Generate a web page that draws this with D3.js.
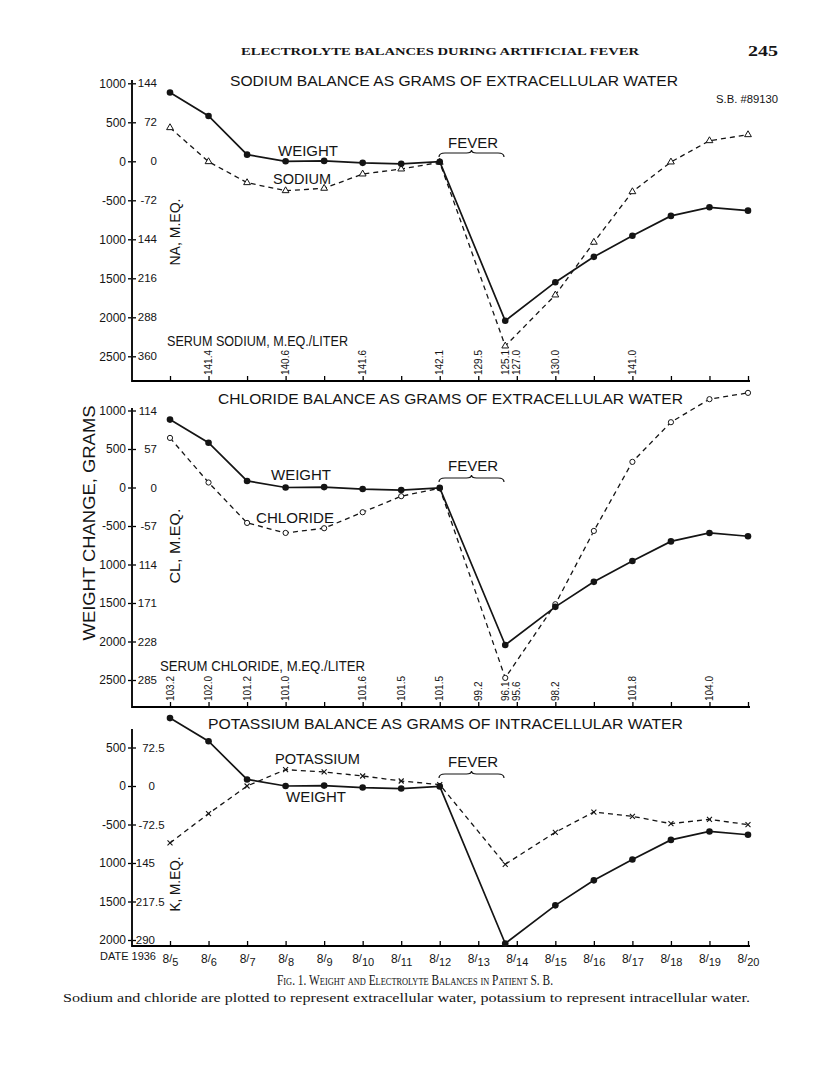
<!DOCTYPE html>
<html lang="en">
<head>
<meta charset="UTF-8">
<title>Electrolyte balances during artificial fever</title>
<style>
    body {
        margin: 0;
        background: #fff;
    }
    svg text {
        fill: #141414;
    }
    .sans {
        font-family: "Liberation Sans", Arial, sans-serif;
    }
    .serif {
        font-family: "Liberation Serif", "Times New Roman", serif;
    }
</style>
</head>
<body>
<svg id="chart" width="816" height="1078"></svg>
<script src="https://d3js.org/d3.v7.min.js"></script>
<script>
// days of August 1936 (13.7 = low point reading during fever)
var days = [5, 6, 7, 8, 9, 10, 11, 12, 13.7, 15, 16, 17, 18, 19, 20];
var dateTicks = [5, 6, 7, 8, 9, 10, 11, 12, 13, 14, 15, 16, 17, 18, 19, 20];
var dateLabels = ["8/5", "8/6", "8/7", "8/8", "8/9", "8/10", "8/11", "8/12", "8/13", "8/14", "8/15", "8/16", "8/17", "8/18", "8/19", "8/20"];

// all series in grams of water (left scale)
var weight    = [882, 581, 85, 0, 5, -20, -33, -5, -2045, -1550, -1225, -955, -700, -590, -633];
var sodium    = [431, -5, -274, -377, -346, -163, -99, -13, -2368, -1714, -1038, -390, -9, 264, 341];
var chloride  = [644, 65, -460, -590, -529, -321, -113, -9, -2473, -1516, -564, 333, 848, 1147, 1229];
var potassium = [-740, -359, 0, 213, 182, 130, 65, 18, -1017, -601, -338, -394, -489, -433, -502];

// serum values written above the date axis
var serumNaDays = [6, 8, 10, 12, 13, 13.7, 14, 15, 17];
var serumNa = ["141.4", "140.6", "141.6", "142.1", "129.5", "125.1", "127.0", "130.0", "141.0"];
var serumClDays = [5, 6, 7, 8, 10, 11, 12, 13, 13.7, 14, 15, 17, 19];
var serumCl = ["103.2", "102.0", "101.2", "101.0", "101.6", "101.5", "101.5", "99.2", "96.1", "95.6", "98.2", "101.8", "104.0"];

// y tick values and labels
var gramTicks = [1000, 500, 0, -500, -1000, -1500, -2000, -2500];
var gramLabels = ["1000", "500", "0", "-500", "1000", "1500", "2000", "2500"];
var naLabels = ["144", "72", "0", "-72", "144", "216", "288", "360"];
var clLabels = ["114", "57", "0", "-57", "114", "171", "228", "285"];
var kTicks = [500, 0, -500, -1000, -1500, -2000];
var kGramLabels = ["500", "0", "-500", "1000", "1500", "2000"];
var kLabels = ["72.5", "0", "-72.5", "145", "217.5", "290"];

var svg = d3.select("#chart");
var x = d3.scaleLinear().domain([5, 20]).range([170, 748]);
var axisX = 132;

function txt(cls, px, py, s, size, len, extra) {
    var t = svg.append("text").attr("class", cls)
        .attr("x", px).attr("y", py)
        .attr("font-size", size).text(s);
    if (len) t.attr("textLength", len).attr("lengthAdjust", "spacingAndGlyphs");
    if (extra) extra(t);
    return t;
}

function vtxt(cx, cy, s, size, len) {
    svg.append("text").attr("class", "sans")
        .attr("transform", "translate(" + cx + "," + cy + ") rotate(-90)")
        .attr("text-anchor", "middle").attr("dy", "0.36em")
        .attr("font-size", size)
        .attr("textLength", len).attr("lengthAdjust", "spacingAndGlyphs")
        .text(s);
}

function brace(x0, x1, yb) {
    var xm = (x0 + x1) / 2;
    var p = d3.path();
    p.moveTo(x0, yb + 4);
    p.quadraticCurveTo(x0, yb, x0 + 6, yb);
    p.lineTo(xm - 5, yb);
    p.quadraticCurveTo(xm, yb, xm, yb - 3);
    p.quadraticCurveTo(xm, yb, xm + 5, yb);
    p.lineTo(x1 - 6, yb);
    p.quadraticCurveTo(x1, yb, x1, yb + 4);
    svg.append("path").attr("d", p.toString())
        .attr("fill", "none").attr("stroke", "#141414").attr("stroke-width", 1.2);
}

var panels = [
    {title: "SODIUM BALANCE AS GRAMS OF EXTRACELLULAR WATER", titleX: 230, titleY: 86, titleLen: 448,
     series: sodium, name: "SODIUM", marker: "tri", ticks: gramTicks, outer: gramLabels, inner: naLabels,
     domain: [-2500, 1000], range: [356.3, 83.3], top: 80, base: 381, innerEnd: 25,
     unit: "NA, M.EQ.", unitY: 232, unitLen: 67,
     serumTitle: "SERUM SODIUM, M.EQ./LITER", serumLen: 181, serumX: 167, serumY: 346,
     serumDays: serumNaDays, serum: serumNa,
     wLab: [278, 156], sLab: [273, 184], sLen: 58, fever: 148, braceY: 153},
    {title: "CHLORIDE BALANCE AS GRAMS OF EXTRACELLULAR WATER", titleX: 218, titleY: 404, titleLen: 465,
     series: chloride, name: "CHLORIDE", marker: "circ", ticks: gramTicks, outer: gramLabels, inner: clLabels,
     domain: [-2500, 1000], range: [680, 410.5], top: 408, base: 707, innerEnd: 25,
     unit: "CL, M.EQ.", unitY: 546, unitLen: 75,
     serumTitle: "SERUM CHLORIDE, M.EQ./LITER", serumLen: 205, serumX: 160, serumY: 671,
     serumDays: serumClDays, serum: serumCl,
     wLab: [271, 480], sLab: [256, 523], sLen: 78, fever: 471, braceY: 478},
    {title: "POTASSIUM BALANCE AS GRAMS OF INTRACELLULAR WATER", titleX: 208, titleY: 729, titleLen: 475,
     series: potassium, name: "POTASSIUM", marker: "x", ticks: kTicks, outer: kGramLabels, inner: kLabels,
     domain: [-2000, 500], range: [940, 747.5], top: 729, base: 946, innerEnd: 23,
     unit: "K, M.EQ.", unitY: 884, unitLen: 55,
     wLab: [286, 802], sLab: [275, 764], sLen: 85, fever: 767, braceY: 774}
];

panels.forEach(function(p, pi) {
    var y = d3.scaleLinear().domain(p.domain).range(p.range);

    // left axis: grams outside, m.eq. inside
    var gl = svg.append("g").attr("transform", "translate(" + axisX + ",0)")
        .call(d3.axisLeft(y).tickValues(p.ticks).tickSize(4).tickPadding(2)
            .tickFormat(function(d, i) { return p.outer[i]; }));
    gl.select(".domain").remove();
    gl.selectAll(".tick line").attr("x1", -4).attr("x2", 4).attr("stroke-width", 1.3);
    gl.selectAll("text").attr("class", "sans").attr("font-size", 12).attr("fill", "#141414");

    // inner labels lined up on the decimal point
    var gr = svg.append("g").attr("transform", "translate(" + axisX + ",0)")
        .call(d3.axisRight(y).tickValues(p.ticks).tickSize(0)
            .tickFormat(function(d, i) { return p.inner[i].split(".")[0]; }));
    gr.select(".domain").remove();
    gr.selectAll("text").attr("class", "sans").attr("font-size", 11.5).attr("fill", "#141414")
        .attr("text-anchor", "end").attr("x", p.innerEnd);
    gr.selectAll(".tick").each(function(d, i) {
        var frac = p.inner[i].split(".")[1];
        if (frac) {
            d3.select(this).append("text").attr("class", "sans").attr("font-size", 11.5)
                .attr("fill", "#141414").attr("x", p.innerEnd).attr("dy", "0.32em")
                .text("." + frac);
        }
    });

    svg.append("line").attr("x1", axisX).attr("x2", axisX)
        .attr("y1", p.top).attr("y2", p.base + 1)
        .attr("stroke", "#141414").attr("stroke-width", 2);

    // date axis
    var gx = svg.append("g").attr("transform", "translate(0," + p.base + ")")
        .call(d3.axisBottom(x).tickValues(dateTicks).tickSize(-5).tickSizeOuter(0)
            .tickFormat(function(d, i) { return pi == 2 ? dateLabels[i] : ""; }));
    gx.select(".domain").attr("d", "M" + axisX + ",0H750").attr("stroke-width", 2);
    gx.selectAll(".tick line").attr("stroke-width", 1.3);
    if (pi == 2) {
        gx.selectAll(".tick text").each(function(d, i) {
            var parts = dateLabels[i].split("/");
            var t = d3.select(this).text(null).attr("class", "sans").attr("font-size", 12)
                .attr("fill", "#141414").attr("y", 8).attr("dy", "0.71em");
            t.append("tspan").text(parts[0]);
            t.append("tspan").attr("font-size", 11).attr("dy", -1).text("/");
            t.append("tspan").attr("font-size", 11).attr("dy", 4).text(parts[1]);
        });
        txt("sans", 100, 960, "DATE 1936", 11, 56);
    }

    // titles and labels
    txt("sans", p.titleX, p.titleY, p.title, 15, p.titleLen);
    vtxt(175, p.unitY, p.unit, 14.5, p.unitLen);
    txt("sans", p.wLab[0], p.wLab[1], "WEIGHT", 14, 60);
    txt("sans", p.sLab[0], p.sLab[1], p.name, 14, p.sLen);
    txt("sans", 448, p.fever, "FEVER", 14, 50);
    brace(439, 504, p.braceY);

    if (p.serum) {
        txt("sans", p.serumX, p.serumY, p.serumTitle, 14, p.serumLen);
        svg.append("g").selectAll("text").data(p.serum).join("text")
            .attr("class", "sans").attr("font-size", 10)
            .attr("transform", function(d, i) {
                return "translate(" + x(p.serumDays[i]) + "," + (p.base - 6) + ") rotate(-90)";
            })
            .attr("dy", "0.36em").text(function(d) { return d; });
    }

    // lines
    var line = d3.line().x(function(d, i) { return x(days[i]); }).y(function(d) { return y(d); });
    svg.append("path").datum(p.series).attr("d", line)
        .attr("fill", "none").attr("stroke", "#141414").attr("stroke-width", 1.3)
        .attr("stroke-dasharray", "5,4");
    svg.append("path").datum(weight).attr("d", line)
        .attr("fill", "none").attr("stroke", "#141414").attr("stroke-width", 1.7);

    // markers
    var mg = svg.append("g");
    if (p.marker == "tri") {
        mg.selectAll("path").data(p.series).join("path")
            .attr("d", d3.symbol(d3.symbolTriangle).size(20))
            .attr("transform", function(d, i) { return "translate(" + x(days[i]) + "," + y(d) + ")"; })
            .attr("fill", "#fff").attr("stroke", "#141414").attr("stroke-width", 1);
    } else if (p.marker == "circ") {
        mg.selectAll("circle").data(p.series).join("circle")
            .attr("cx", function(d, i) { return x(days[i]); })
            .attr("cy", function(d) { return y(d); })
            .attr("r", 2.6).attr("fill", "#fff").attr("stroke", "#141414").attr("stroke-width", 1);
    } else {
        mg.selectAll("path").data(p.series).join("path")
            .attr("d", "M-2.5,-2.5L2.5,2.5M-2.5,2.5L2.5,-2.5")
            .attr("transform", function(d, i) { return "translate(" + x(days[i]) + "," + y(d) + ")"; })
            .attr("stroke", "#141414").attr("stroke-width", 1.1);
    }
    svg.append("g").selectAll("circle").data(weight).join("circle")
        .attr("cx", function(d, i) { return x(days[i]); })
        .attr("cy", function(d) { return y(d); })
        .attr("r", 3.3).attr("fill", "#141414");
});

// page header, case number, caption
txt("serif", 241, 55, "ELECTROLYTE BALANCES DURING ARTIFICIAL FEVER", 11, 398, function(t) { t.attr("font-weight", "bold"); });
txt("serif", 748, 56, "245", 15, 30, function(t) { t.attr("font-weight", "bold"); });
txt("sans", 716, 103, "S.B. #89130", 10, 62);
vtxt(89, 523, "WEIGHT   CHANGE,   GRAMS", 17, 235);
txt("serif", 277, 985, "Fig. 1.  Weight and Electrolyte Balances in Patient S. B.", 15, 276, function(t) { t.attr("font-variant", "small-caps"); });
txt("serif", 63, 1002, "Sodium and chloride are plotted to represent extracellular water, potassium to represent intracellular water.", 13, 687);
</script>
</body>
</html>
